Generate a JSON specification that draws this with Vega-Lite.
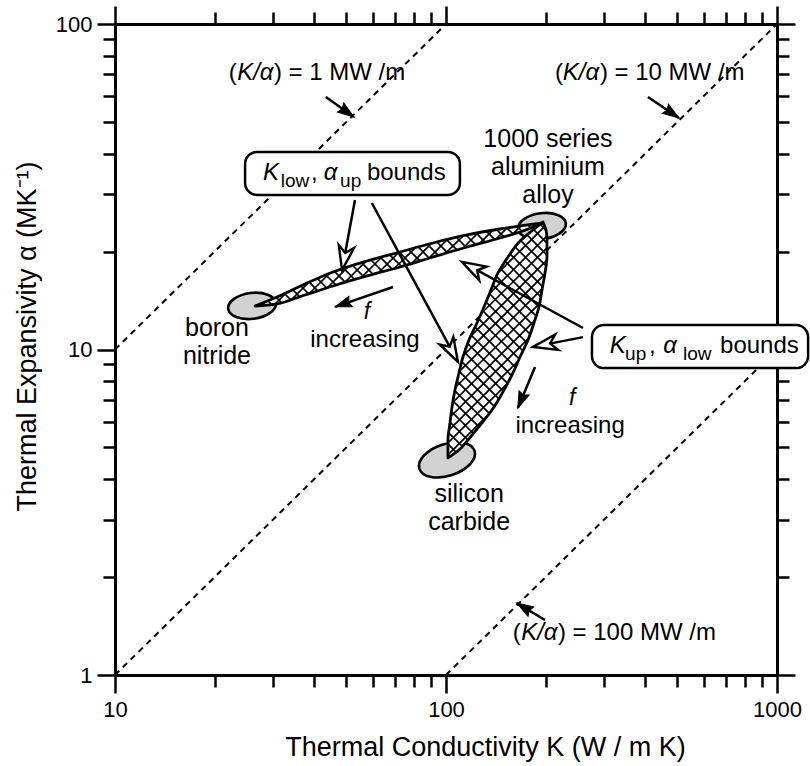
{
 "$schema": "https://vega.github.io/schema/vega-lite/v6.json",
 "width": 662, "height": 651,
 "autosize": {"type": "none"},
 "padding": {"left": 115, "top": 24, "right": 33, "bottom": 91},
 "background": "white",
 "config": {
  "view": {"stroke": null},
  "font": "Liberation Sans",
  "axis": {"domainColor": "black", "tickColor": "black", "domainWidth": 3, "tickWidth": 2.5, "labelColor": "black", "titleColor": "black", "labelFont": "Liberation Sans", "titleFont": "Liberation Sans", "labelFontSize": 22, "titleFontSize": 27, "titleFontWeight": "normal", "grid": false}
 },
 "datasets": {
  "dash": [{"K1": 10, "a1": 10, "K2": 100, "a2": 100}, {"K1": 10, "a1": 1, "K2": 1000, "a2": 100}, {"K1": 100, "a1": 1, "K2": 1000, "a2": 10}],
  "ellSmall": [{"lk": 1.414, "la": 1.134, "name": "boron nitride"}, {"lk": 2.290, "la": 1.379, "name": "aluminium"}],
  "ellBig": [{"lk": 2.003, "la": 0.661, "name": "silicon carbide"}],
  "lensLo": [
   {"la": 1.3917, "xl": 2.2931, "xr": 2.2931}, {"la": 1.3671, "xl": 2.2628, "xr": 2.3021}, {"la": 1.3364, "xl": 2.2266, "xr": 2.3051}, {"la": 1.2842, "xl": 2.1873, "xr": 2.3051}, {"la": 1.2351, "xl": 2.1570, "xr": 2.2991}, {"la": 1.1828, "xl": 2.1359, "xr": 2.2900}, {"la": 1.1306, "xl": 2.1147, "xr": 2.2809}, {"la": 1.0815, "xl": 2.0936, "xr": 2.2658}, {"la": 1.0292, "xl": 2.0694, "xr": 2.2477}, {"la": 0.9770, "xl": 2.0513, "xr": 2.2235}, {"la": 0.9279, "xl": 2.0392, "xr": 2.2024}, {"la": 0.8756, "xl": 2.0271, "xr": 2.1752}, {"la": 0.8234, "xl": 2.0181, "xr": 2.1450}, {"la": 0.7743, "xl": 2.0120, "xr": 2.1087}, {"la": 0.7220, "xl": 2.0060, "xr": 2.0664}, {"la": 0.6913, "xl": 2.0060, "xr": 2.0392}, {"la": 0.6668, "xl": 2.0060, "xr": 2.0060}
  ],
  "lensUp": [
   {"lk": 1.4229, "yu": 1.1337, "yd": 1.1337}, {"lk": 1.4894, "yu": 1.1613, "yd": 1.1398}, {"lk": 1.5740, "yu": 1.2013, "yd": 1.1675}, {"lk": 1.6586, "yu": 1.2381, "yd": 1.1951}, {"lk": 1.7613, "yu": 1.2719, "yd": 1.2259}, {"lk": 1.8610, "yu": 1.2996, "yd": 1.2535}, {"lk": 1.9607, "yu": 1.3272, "yd": 1.2842}, {"lk": 2.0634, "yu": 1.3518, "yd": 1.3149}, {"lk": 2.1631, "yu": 1.3702, "yd": 1.3426}, {"lk": 2.2235, "yu": 1.3795, "yd": 1.3610}, {"lk": 2.2869, "yu": 1.3887, "yd": 1.3856}
  ],
  "hatch": [
   {"x1": 2.157, "y1": 1.235, "x2": 2.298, "y2": 1.378}, {"x1": 2.132, "y1": 1.172, "x2": 2.304, "y2": 1.348}, {"x1": 2.105, "y1": 1.109, "x2": 2.305, "y2": 1.312}, {"x1": 2.075, "y1": 1.041, "x2": 2.304, "y2": 1.274}, {"x1": 2.053, "y1": 0.982, "x2": 2.298, "y2": 1.231}, {"x1": 2.040, "y1": 0.932, "x2": 2.291, "y2": 1.187}, {"x1": 2.029, "y1": 0.884, "x2": 2.283, "y2": 1.142}, {"x1": 2.021, "y1": 0.838, "x2": 2.269, "y2": 1.090}, {"x1": 2.015, "y1": 0.795, "x2": 2.249, "y2": 1.034}, {"x1": 2.010, "y1": 0.753, "x2": 2.219, "y2": 0.966}, {"x1": 2.006, "y1": 0.713, "x2": 2.185, "y2": 0.895}, {"x1": 2.006, "y1": 0.676, "x2": 2.127, "y2": 0.799},
   {"x1": 2.285, "y1": 1.385, "x2": 2.302, "y2": 1.367}, {"x1": 2.265, "y1": 1.368, "x2": 2.305, "y2": 1.327}, {"x1": 2.245, "y1": 1.352, "x2": 2.305, "y2": 1.290}, {"x1": 2.225, "y1": 1.335, "x2": 2.302, "y2": 1.257}, {"x1": 2.210, "y1": 1.314, "x2": 2.297, "y2": 1.225}, {"x1": 2.194, "y1": 1.293, "x2": 2.292, "y2": 1.193}, {"x1": 2.179, "y1": 1.271, "x2": 2.286, "y2": 1.162}, {"x1": 2.165, "y1": 1.248, "x2": 2.281, "y2": 1.131}, {"x1": 2.153, "y1": 1.224, "x2": 2.272, "y2": 1.103}, {"x1": 2.142, "y1": 1.198, "x2": 2.263, "y2": 1.075}, {"x1": 2.131, "y1": 1.172, "x2": 2.254, "y2": 1.047}, {"x1": 2.121, "y1": 1.146, "x2": 2.244, "y2": 1.021}, {"x1": 2.110, "y1": 1.120, "x2": 2.232, "y2": 0.996}, {"x1": 2.099, "y1": 1.094, "x2": 2.221, "y2": 0.971}, {"x1": 2.088, "y1": 1.069, "x2": 2.210, "y2": 0.945}, {"x1": 2.076, "y1": 1.044, "x2": 2.198, "y2": 0.920}, {"x1": 2.066, "y1": 1.018, "x2": 2.186, "y2": 0.896}, {"x1": 2.056, "y1": 0.991, "x2": 2.173, "y2": 0.872}, {"x1": 2.048, "y1": 0.962, "x2": 2.159, "y2": 0.849}, {"x1": 2.040, "y1": 0.933, "x2": 2.146, "y2": 0.825}, {"x1": 2.033, "y1": 0.903, "x2": 2.131, "y2": 0.804}, {"x1": 2.027, "y1": 0.873, "x2": 2.115, "y2": 0.783}, {"x1": 2.021, "y1": 0.842, "x2": 2.099, "y2": 0.763}, {"x1": 2.016, "y1": 0.810, "x2": 2.083, "y2": 0.742}, {"x1": 2.012, "y1": 0.777, "x2": 2.066, "y2": 0.722}, {"x1": 2.008, "y1": 0.744, "x2": 2.049, "y2": 0.703}, {"x1": 2.006, "y1": 0.710, "x2": 2.030, "y2": 0.685},
   {"x1": 1.443, "y1": 1.136, "x2": 1.454, "y2": 1.147}, {"x1": 1.483, "y1": 1.139, "x2": 1.518, "y2": 1.175}, {"x1": 1.534, "y1": 1.154, "x2": 1.585, "y2": 1.206}, {"x1": 1.587, "y1": 1.172, "x2": 1.648, "y2": 1.234}, {"x1": 1.641, "y1": 1.189, "x2": 1.703, "y2": 1.253}, {"x1": 1.693, "y1": 1.205, "x2": 1.757, "y2": 1.270}, {"x1": 1.744, "y1": 1.221, "x2": 1.807, "y2": 1.285}, {"x1": 1.795, "y1": 1.235, "x2": 1.857, "y2": 1.298}, {"x1": 1.844, "y1": 1.249, "x2": 1.907, "y2": 1.312}, {"x1": 1.896, "y1": 1.264, "x2": 1.956, "y2": 1.326}, {"x1": 1.948, "y1": 1.280, "x2": 2.004, "y2": 1.338}, {"x1": 1.999, "y1": 1.296, "x2": 2.052, "y2": 1.349}, {"x1": 2.051, "y1": 1.311, "x2": 2.097, "y2": 1.358}, {"x1": 2.101, "y1": 1.325, "x2": 2.141, "y2": 1.366}, {"x1": 2.151, "y1": 1.339, "x2": 2.185, "y2": 1.374}, {"x1": 2.202, "y1": 1.355, "x2": 2.227, "y2": 1.380}, {"x1": 2.258, "y1": 1.374, "x2": 2.269, "y2": 1.386},
   {"x1": 1.462, "y1": 1.150, "x2": 1.473, "y2": 1.138}, {"x1": 1.487, "y1": 1.160, "x2": 1.503, "y2": 1.144}, {"x1": 1.512, "y1": 1.172, "x2": 1.530, "y2": 1.153}, {"x1": 1.537, "y1": 1.184, "x2": 1.558, "y2": 1.162}, {"x1": 1.562, "y1": 1.195, "x2": 1.585, "y2": 1.171}, {"x1": 1.587, "y1": 1.207, "x2": 1.613, "y2": 1.180}, {"x1": 1.612, "y1": 1.218, "x2": 1.640, "y2": 1.189}, {"x1": 1.637, "y1": 1.229, "x2": 1.668, "y2": 1.198}, {"x1": 1.663, "y1": 1.240, "x2": 1.696, "y2": 1.206}, {"x1": 1.691, "y1": 1.249, "x2": 1.724, "y2": 1.215}, {"x1": 1.718, "y1": 1.258, "x2": 1.752, "y2": 1.223}, {"x1": 1.745, "y1": 1.267, "x2": 1.780, "y2": 1.231}, {"x1": 1.773, "y1": 1.275, "x2": 1.809, "y2": 1.239}, {"x1": 1.802, "y1": 1.283, "x2": 1.837, "y2": 1.247}, {"x1": 1.830, "y1": 1.291, "x2": 1.866, "y2": 1.255}, {"x1": 1.859, "y1": 1.299, "x2": 1.893, "y2": 1.264}, {"x1": 1.887, "y1": 1.307, "x2": 1.921, "y2": 1.272}, {"x1": 1.916, "y1": 1.315, "x2": 1.949, "y2": 1.281}, {"x1": 1.944, "y1": 1.323, "x2": 1.977, "y2": 1.289}, {"x1": 1.973, "y1": 1.330, "x2": 2.005, "y2": 1.297}, {"x1": 2.002, "y1": 1.337, "x2": 2.033, "y2": 1.306}, {"x1": 2.032, "y1": 1.344, "x2": 2.061, "y2": 1.314}, {"x1": 2.061, "y1": 1.351, "x2": 2.089, "y2": 1.322}, {"x1": 2.092, "y1": 1.357, "x2": 2.118, "y2": 1.330}, {"x1": 2.122, "y1": 1.363, "x2": 2.147, "y2": 1.338}, {"x1": 2.153, "y1": 1.368, "x2": 2.175, "y2": 1.346}, {"x1": 2.184, "y1": 1.373, "x2": 2.203, "y2": 1.355}, {"x1": 2.216, "y1": 1.378, "x2": 2.230, "y2": 1.363}, {"x1": 2.247, "y1": 1.383, "x2": 2.256, "y2": 1.374}
  ],
  "arrows": [
   {"kind": "filled", "x1": 1.637, "y1": 1.776, "x2": 1.722, "y2": 1.714, "ang": 125.5},
   {"kind": "filled", "x1": 2.610, "y1": 1.776, "x2": 2.704, "y2": 1.711, "ang": 124.1},
   {"kind": "filled", "x1": 2.299, "y1": 0.169, "x2": 2.214, "y2": 0.221, "ang": -58.7},
   {"kind": "open", "x1": 1.725, "y1": 1.459, "x2": 1.686, "y2": 1.244, "ang": -169.5},
   {"kind": "open", "x1": 1.776, "y1": 1.450, "x2": 2.036, "y2": 0.962, "ang": 151.6},
   {"kind": "open", "x1": 2.414, "y1": 1.066, "x2": 2.048, "y2": 1.269, "ang": -61.4},
   {"kind": "open", "x1": 2.414, "y1": 1.038, "x2": 2.263, "y2": 1.008, "ang": -101.3},
   {"kind": "filled", "x1": 1.840, "y1": 1.192, "x2": 1.665, "y2": 1.131, "ang": -109},
   {"kind": "filled", "x1": 2.269, "y1": 0.946, "x2": 2.217, "y2": 0.820, "ang": -157.5}
  ],
  "boxes": [{"x1": 1.393, "x2": 2.042, "y1": 1.607, "y2": 1.475}, {"x1": 2.441, "x2": 3.094, "y1": 1.075, "y2": 0.943}],
  "matLabels": [{"lk": 1.308, "la": 1.042, "t": "boron"}, {"lk": 1.308, "la": 0.956, "t": "nitride"}, {"lk": 2.070, "la": 0.532, "t": "silicon"}, {"lk": 2.070, "la": 0.446, "t": "carbide"}, {"lk": 2.308, "la": 1.622, "t": "1000 series"}, {"lk": 2.308, "la": 1.536, "t": "aluminium"}, {"lk": 2.308, "la": 1.450, "t": "alloy"}],
  "incr": [{"lk": 1.755, "la": 1.008, "t": "increasing"}, {"lk": 2.375, "la": 0.744, "t": "increasing"}],
  "fLab": [{"lk": 1.761, "la": 1.094, "t": "f"}, {"lk": 2.381, "la": 0.830, "t": "f"}],
  "boxReg": [{"lk": 1.592, "la": 1.521, "t": ","}, {"lk": 1.761, "la": 1.521, "t": "bounds"}, {"lk": 2.613, "la": 0.989, "t": ","}, {"lk": 2.828, "la": 0.989, "t": "bounds"}],
  "boxIt": [{"lk": 1.447, "la": 1.521, "t": "K"}, {"lk": 1.631, "la": 1.521, "t": "α"}, {"lk": 2.495, "la": 0.989, "t": "K"}, {"lk": 2.656, "la": 0.989, "t": "α"}],
  "boxSub": [{"lk": 1.501, "la": 1.499, "t": "low"}, {"lk": 1.680, "la": 1.499, "t": "up"}, {"lk": 2.541, "la": 0.968, "t": "up"}, {"lk": 2.716, "la": 0.968, "t": "low"}],
  "mwReg": [{"lk": 1.344, "la": 1.828, "t": "("}, {"lk": 1.480, "la": 1.828, "t": ") = 1 MW /m"}, {"lk": 2.329, "la": 1.828, "t": "("}, {"lk": 2.465, "la": 1.828, "t": ") = 10 MW /m"}, {"lk": 2.202, "la": 0.108, "t": "("}, {"lk": 2.338, "la": 0.108, "t": ") = 100 MW /m"}],
  "mwIt": [{"lk": 1.369, "la": 1.828, "t": "K/α"}, {"lk": 2.353, "la": 1.828, "t": "K/α"}, {"lk": 2.227, "la": 0.108, "t": "K/α"}]
 },
 "resolve": {"scale": {"x": "independent", "y": "independent"}},
 "layer": [
  {
   "data": {"name": "dash"},
   "mark": {"type": "rule", "strokeDash": [6, 5], "strokeWidth": 2, "color": "black"},
   "encoding": {
    "x": {"field": "K1", "type": "quantitative", "scale": {"type": "log", "domain": [10, 1000], "nice": false},
     "axis": {"orient": "bottom", "values": [10, 20, 30, 40, 50, 60, 70, 80, 90, 100, 200, 300, 400, 500, 600, 700, 800, 900, 1000],
      "tickSize": {"condition": {"test": "datum.value == 10 || datum.value == 100 || datum.value == 1000", "value": 18}, "value": 12},
      "labelExpr": "datum.value == 10 ? '10' : datum.value == 100 ? '100' : datum.value == 1000 ? '1000' : ''",
      "labelPadding": 6, "labelOverlap": false, "labelFlush": false, "labelBound": false,
      "title": "Thermal Conductivity  K (W / m K)", "titleX": 370, "titleY": 80, "titleBaseline": "alphabetic", "titleAlign": "center"}},
    "y": {"field": "a1", "type": "quantitative", "scale": {"type": "log", "domain": [1, 100], "nice": false},
     "axis": {"orient": "left", "values": [1, 2, 3, 4, 5, 6, 7, 8, 9, 10, 20, 30, 40, 50, 60, 70, 80, 90, 100],
      "tickSize": {"condition": {"test": "datum.value == 1 || datum.value == 10 || datum.value == 100", "value": 18}, "value": 12},
      "labelExpr": "datum.value == 1 ? '1' : datum.value == 10 ? '10' : datum.value == 100 ? '100' : ''",
      "labelPadding": 5, "labelOverlap": false, "labelFlush": false, "labelBound": false,
      "title": "Thermal Expansivity  α (MK⁻¹)", "titleX": -88, "titleY": 312, "titleAngle": 270, "titleBaseline": "middle", "titleAlign": "center"}},
    "x2": {"field": "K2"},
    "y2": {"field": "a2"}
   }
  },
  {
   "data": {"name": "dash"},
   "mark": {"type": "rule", "opacity": 0},
   "encoding": {
    "x": {"field": "K1", "type": "quantitative", "scale": {"type": "log", "domain": [10, 1000], "nice": false},
     "axis": {"orient": "top", "values": [10, 20, 30, 40, 50, 60, 70, 80, 90, 100, 200, 300, 400, 500, 600, 700, 800, 900, 1000],
      "tickSize": {"condition": {"test": "datum.value == 10 || datum.value == 100 || datum.value == 1000", "value": 18}, "value": 12},
      "labels": false, "title": null}},
    "y": {"field": "a1", "type": "quantitative", "scale": {"type": "log", "domain": [1, 100], "nice": false},
     "axis": {"orient": "right", "values": [1, 2, 3, 4, 5, 6, 7, 8, 9, 10, 20, 30, 40, 50, 60, 70, 80, 90, 100],
      "tickSize": {"condition": {"test": "datum.value == 1 || datum.value == 10 || datum.value == 100", "value": 18}, "value": 12},
      "labels": false, "title": null}},
    "x2": {"field": "K2"},
    "y2": {"field": "a2"}
   }
  },
  {
   "data": {"name": "ellSmall"},
   "mark": {"type": "point", "shape": "M-1,0C-1,-0.298,-0.552,-0.54,0,-0.54C0.552,-0.54,1,-0.298,1,0C1,0.298,0.552,0.54,0,0.54C-0.552,0.54,-1,0.298,-1,0Z", "size": 2304, "angle": -7, "fill": "#d2d2d2", "stroke": "black", "strokeWidth": 2.6, "opacity": 1, "fillOpacity": 1},
   "encoding": {
    "x": {"field": "lk", "type": "quantitative", "scale": {"domain": [1, 3], "nice": false, "zero": false}, "axis": null},
    "y": {"field": "la", "type": "quantitative", "scale": {"domain": [0, 2], "nice": false, "zero": false}, "axis": null}
   }
  },
  {
   "data": {"name": "ellBig"},
   "mark": {"type": "point", "shape": "M-1,0C-1,-0.304,-0.552,-0.55,0,-0.55C0.552,-0.55,1,-0.304,1,0C1,0.304,0.552,0.55,0,0.55C-0.552,0.55,-1,0.304,-1,0Z", "size": 3364, "angle": -18, "fill": "#d2d2d2", "stroke": "black", "strokeWidth": 2.6, "opacity": 1, "fillOpacity": 1},
   "encoding": {
    "x": {"field": "lk", "type": "quantitative", "scale": {"domain": [1, 3], "nice": false, "zero": false}, "axis": null},
    "y": {"field": "la", "type": "quantitative", "scale": {"domain": [0, 2], "nice": false, "zero": false}, "axis": null}
   }
  },
  {
   "data": {"name": "lensLo"},
   "mark": {"type": "area", "orient": "horizontal", "interpolate": "monotone", "fill": "white", "opacity": 1},
   "encoding": {
    "y": {"field": "la", "type": "quantitative", "scale": {"domain": [0, 2], "nice": false, "zero": false}, "axis": null},
    "x": {"field": "xl", "type": "quantitative", "scale": {"domain": [1, 3], "nice": false, "zero": false}, "axis": null},
    "x2": {"field": "xr"}
   }
  },
  {
   "data": {"name": "lensUp"},
   "mark": {"type": "area", "interpolate": "monotone", "fill": "white", "opacity": 1},
   "encoding": {
    "x": {"field": "lk", "type": "quantitative", "scale": {"domain": [1, 3], "nice": false, "zero": false}, "axis": null},
    "y": {"field": "yu", "type": "quantitative", "scale": {"domain": [0, 2], "nice": false, "zero": false}, "axis": null},
    "y2": {"field": "yd"}
   }
  },
  {
   "data": {"name": "hatch"},
   "mark": {"type": "rule", "color": "black", "strokeWidth": 1.7},
   "encoding": {
    "x": {"field": "x1", "type": "quantitative", "scale": {"domain": [1, 3], "nice": false, "zero": false}, "axis": null},
    "y": {"field": "y1", "type": "quantitative", "scale": {"domain": [0, 2], "nice": false, "zero": false}, "axis": null},
    "x2": {"field": "x2"},
    "y2": {"field": "y2"}
   }
  },
  {
   "data": {"name": "lensLo"},
   "mark": {"type": "area", "orient": "horizontal", "interpolate": "monotone", "fillOpacity": 0, "stroke": "black", "strokeWidth": 2.8, "strokeJoin": "round"},
   "encoding": {
    "y": {"field": "la", "type": "quantitative", "scale": {"domain": [0, 2], "nice": false, "zero": false}, "axis": null},
    "x": {"field": "xl", "type": "quantitative", "scale": {"domain": [1, 3], "nice": false, "zero": false}, "axis": null},
    "x2": {"field": "xr"}
   }
  },
  {
   "data": {"name": "lensUp"},
   "mark": {"type": "area", "interpolate": "monotone", "fillOpacity": 0, "stroke": "black", "strokeWidth": 2.8, "strokeJoin": "round"},
   "encoding": {
    "x": {"field": "lk", "type": "quantitative", "scale": {"domain": [1, 3], "nice": false, "zero": false}, "axis": null},
    "y": {"field": "yu", "type": "quantitative", "scale": {"domain": [0, 2], "nice": false, "zero": false}, "axis": null},
    "y2": {"field": "yd"}
   }
  },
  {
   "data": {"name": "arrows"},
   "mark": {"type": "rule", "color": "black", "strokeWidth": 2.5},
   "encoding": {
    "x": {"field": "x1", "type": "quantitative", "scale": {"domain": [1, 3], "nice": false, "zero": false}, "axis": null},
    "y": {"field": "y1", "type": "quantitative", "scale": {"domain": [0, 2], "nice": false, "zero": false}, "axis": null},
    "x2": {"field": "x2"},
    "y2": {"field": "y2"}
   }
  },
  {
   "data": {"name": "arrows"},
   "transform": [{"filter": "datum.kind == 'filled'"}],
   "mark": {"type": "point", "shape": "M0,0L0.5,1.5L0,1.3L-0.5,1.5Z", "size": 484, "fill": "black", "stroke": "black", "strokeWidth": 1, "opacity": 1, "fillOpacity": 1},
   "encoding": {
    "x": {"field": "x2", "type": "quantitative", "scale": {"domain": [1, 3], "nice": false, "zero": false}, "axis": null},
    "y": {"field": "y2", "type": "quantitative", "scale": {"domain": [0, 2], "nice": false, "zero": false}, "axis": null},
    "angle": {"field": "ang", "type": "quantitative", "scale": null}
   }
  },
  {
   "data": {"name": "arrows"},
   "transform": [{"filter": "datum.kind == 'open'"}],
   "mark": {"type": "point", "shape": "M0,0L0.65,2L0,1.45L-0.65,2Z", "size": 576, "fill": "white", "stroke": "black", "strokeWidth": 2.4, "strokeJoin": "miter", "opacity": 1, "fillOpacity": 1},
   "encoding": {
    "x": {"field": "x2", "type": "quantitative", "scale": {"domain": [1, 3], "nice": false, "zero": false}, "axis": null},
    "y": {"field": "y2", "type": "quantitative", "scale": {"domain": [0, 2], "nice": false, "zero": false}, "axis": null},
    "angle": {"field": "ang", "type": "quantitative", "scale": null}
   }
  },
  {
   "data": {"name": "boxes"},
   "mark": {"type": "rect", "cornerRadius": 12, "fill": "white", "stroke": "black", "strokeWidth": 2.5},
   "encoding": {
    "x": {"field": "x1", "type": "quantitative", "scale": {"domain": [1, 3], "nice": false, "zero": false}, "axis": null},
    "y": {"field": "y1", "type": "quantitative", "scale": {"domain": [0, 2], "nice": false, "zero": false}, "axis": null},
    "x2": {"field": "x2"},
    "y2": {"field": "y2"}
   }
  },
  {
   "data": {"name": "matLabels"},
   "mark": {"type": "text", "font": "Liberation Sans", "fontSize": 25, "align": "center", "baseline": "alphabetic", "color": "black"},
   "encoding": {
    "x": {"field": "lk", "type": "quantitative", "scale": {"domain": [1, 3], "nice": false, "zero": false}, "axis": null},
    "y": {"field": "la", "type": "quantitative", "scale": {"domain": [0, 2], "nice": false, "zero": false}, "axis": null},
    "text": {"field": "t"}
   }
  },
  {
   "data": {"name": "incr"},
   "mark": {"type": "text", "font": "Liberation Sans", "fontSize": 24, "align": "center", "baseline": "alphabetic", "color": "black"},
   "encoding": {
    "x": {"field": "lk", "type": "quantitative", "scale": {"domain": [1, 3], "nice": false, "zero": false}, "axis": null},
    "y": {"field": "la", "type": "quantitative", "scale": {"domain": [0, 2], "nice": false, "zero": false}, "axis": null},
    "text": {"field": "t"}
   }
  },
  {
   "data": {"name": "fLab"},
   "mark": {"type": "text", "font": "Liberation Sans", "fontSize": 23, "fontStyle": "italic", "align": "center", "baseline": "alphabetic", "color": "black"},
   "encoding": {
    "x": {"field": "lk", "type": "quantitative", "scale": {"domain": [1, 3], "nice": false, "zero": false}, "axis": null},
    "y": {"field": "la", "type": "quantitative", "scale": {"domain": [0, 2], "nice": false, "zero": false}, "axis": null},
    "text": {"field": "t"}
   }
  },
  {
   "data": {"name": "boxReg"},
   "mark": {"type": "text", "font": "Liberation Sans", "fontSize": 24, "align": "left", "baseline": "alphabetic", "color": "black"},
   "encoding": {
    "x": {"field": "lk", "type": "quantitative", "scale": {"domain": [1, 3], "nice": false, "zero": false}, "axis": null},
    "y": {"field": "la", "type": "quantitative", "scale": {"domain": [0, 2], "nice": false, "zero": false}, "axis": null},
    "text": {"field": "t"}
   }
  },
  {
   "data": {"name": "boxIt"},
   "mark": {"type": "text", "font": "Liberation Sans", "fontSize": 24, "fontStyle": "italic", "align": "left", "baseline": "alphabetic", "color": "black"},
   "encoding": {
    "x": {"field": "lk", "type": "quantitative", "scale": {"domain": [1, 3], "nice": false, "zero": false}, "axis": null},
    "y": {"field": "la", "type": "quantitative", "scale": {"domain": [0, 2], "nice": false, "zero": false}, "axis": null},
    "text": {"field": "t"}
   }
  },
  {
   "data": {"name": "boxSub"},
   "mark": {"type": "text", "font": "Liberation Sans", "fontSize": 19, "align": "left", "baseline": "alphabetic", "color": "black"},
   "encoding": {
    "x": {"field": "lk", "type": "quantitative", "scale": {"domain": [1, 3], "nice": false, "zero": false}, "axis": null},
    "y": {"field": "la", "type": "quantitative", "scale": {"domain": [0, 2], "nice": false, "zero": false}, "axis": null},
    "text": {"field": "t"}
   }
  },
  {
   "data": {"name": "mwReg"},
   "mark": {"type": "text", "font": "Liberation Sans", "fontSize": 24, "align": "left", "baseline": "alphabetic", "color": "black"},
   "encoding": {
    "x": {"field": "lk", "type": "quantitative", "scale": {"domain": [1, 3], "nice": false, "zero": false}, "axis": null},
    "y": {"field": "la", "type": "quantitative", "scale": {"domain": [0, 2], "nice": false, "zero": false}, "axis": null},
    "text": {"field": "t"}
   }
  },
  {
   "data": {"name": "mwIt"},
   "mark": {"type": "text", "font": "Liberation Sans", "fontSize": 24, "fontStyle": "italic", "align": "left", "baseline": "alphabetic", "color": "black"},
   "encoding": {
    "x": {"field": "lk", "type": "quantitative", "scale": {"domain": [1, 3], "nice": false, "zero": false}, "axis": null},
    "y": {"field": "la", "type": "quantitative", "scale": {"domain": [0, 2], "nice": false, "zero": false}, "axis": null},
    "text": {"field": "t"}
   }
  }
 ]
}
